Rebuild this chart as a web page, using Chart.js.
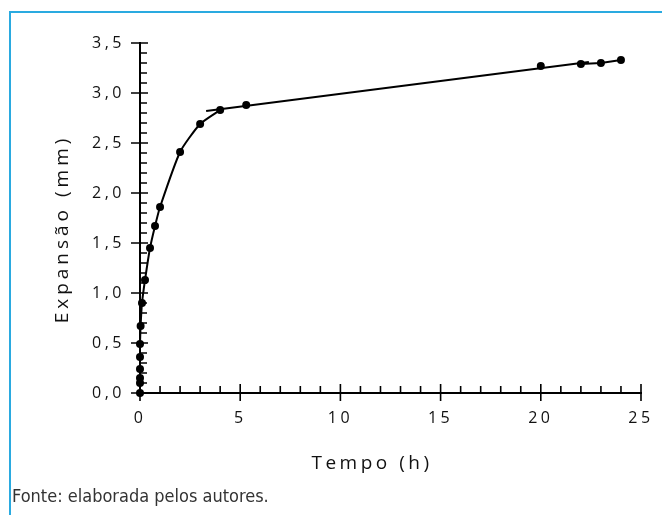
<!DOCTYPE html>
<html>
<head>
<meta charset="utf-8">
<script src="https://cdn.jsdelivr.net/npm/chart.js@4"></script>
<style>
    html, body { margin: 0; padding: 0; background: #fff; }
    #wrap { position: relative; width: 662px; height: 515px; overflow: hidden; }
    #frame { position: absolute; left: 9px; top: 11px; right: 0; bottom: 0; border-top: 2px solid #2aaae0; border-left: 2px solid #2aaae0; }
    #chart { position: absolute; left: 0; top: 0; }
    #source { position: absolute; left: 12px; top: 485px; font-family: 'Liberation Sans Narrow', 'DejaVu Sans Condensed', sans-serif; font-size: 18px; color: #333; }
</style>
</head>
<body>
<div id="wrap">
    <div id="frame"></div>
    <canvas id="chart" width="662" height="515"></canvas>
    <div id="source">Fonte: elaborada pelos autores.</div>
</div>
<script>
// early expansion (first hours)
const earlyTime = [0, 0, 0, 0, 0, 0, 0.03, 0.1, 0.25, 0.5, 0.75, 1, 2, 3, 4];
const earlyExp = [0, 0.10, 0.15, 0.24, 0.36, 0.49, 0.67, 0.90, 1.13, 1.45, 1.67, 1.86, 2.41, 2.69, 2.83];

// later readings
const lateTime = [5.3, 20, 22, 23, 24];
const lateExp = [2.88, 3.27, 3.29, 3.30, 3.33];

// fitted straight line for the later stage
const fitTime = [3.3, 22.4];
const fitExp = [2.82, 3.31];

const xTicks = [0, 5, 10, 15, 20, 25];
const yTicks = [0, 0.5, 1, 1.5, 2, 2.5, 3, 3.5];

const xTitle = 'Tempo (h)';
const yTitle = 'Expansão (mm)';

const toPoints = (xs, ys) => xs.map((x, i) => ({ x: x, y: ys[i] }));
const fmt = (v) => v.toFixed(1).replace('.', ',');

const fontFamily = "'Open Sans', 'Noto Sans', sans-serif";

const spacingPlugin = {
    id: 'spacing',
    beforeDraw: (chart) => {
        chart.ctx.letterSpacing = '3.5px';
    },
};

const minorTicksPlugin = {
    id: 'minorTicks',
    beforeDatasetsDraw: (chart) => {
        const ctx = chart.ctx;
        const xs = chart.scales.x;
        const ys = chart.scales.y;
        const x0 = xs.getPixelForValue(0);
        const y0 = ys.getPixelForValue(0);
        ctx.save();
        ctx.strokeStyle = '#000';
        ctx.lineWidth = 1.6;
        ctx.beginPath();
        for (let i = 0; i <= 35; i++) {
            const py = ys.getPixelForValue(i / 10);
            if (i % 5 === 0) {
                ctx.moveTo(x0 - 9, py);
                ctx.lineTo(x0 + 8, py);
            } else {
                ctx.moveTo(x0, py);
                ctx.lineTo(x0 + 7, py);
            }
        }
        for (let i = 0; i <= 25; i++) {
            const px = xs.getPixelForValue(i);
            if (i % 5 === 0) {
                ctx.moveTo(px, y0 - 9);
                ctx.lineTo(px, y0 + 8);
            } else {
                ctx.moveTo(px, y0 - 7);
                ctx.lineTo(px, y0);
            }
        }
        ctx.stroke();
        ctx.restore();
    },
    afterDraw: (chart) => {
        const ctx = chart.ctx;
        ctx.save();
        ctx.fillStyle = '#111';
        ctx.font = '19px ' + fontFamily;
        ctx.letterSpacing = '3.5px';
        ctx.textAlign = 'center';
        ctx.textBaseline = 'middle';
        ctx.fillText(xTitle, 372, 464);
        ctx.translate(63, 229);
        ctx.rotate(-Math.PI / 2);
        ctx.letterSpacing = '4px';
        ctx.fillText(yTitle, 0, 0);
        ctx.restore();
    },
};

const ctx = document.getElementById('chart').getContext('2d');

new Chart(ctx, {
    type: 'scatter',
    data: {
        datasets: [{
            data: toPoints(earlyTime, earlyExp),
            showLine: true,
            tension: 0.2,
            clip: false,
            borderColor: '#000',
            borderWidth: 2,
            pointRadius: 4,
            pointBackgroundColor: '#000',
            pointBorderWidth: 0,
        }, {
            data: toPoints(fitTime, fitExp),
            showLine: true,
            clip: false,
            borderColor: '#000',
            borderWidth: 2,
            pointRadius: 0,
        }, {
            data: toPoints(lateTime, lateExp),
            showLine: false,
            clip: false,
            pointRadius: 4,
            pointBackgroundColor: '#000',
            pointBorderWidth: 0,
        }, {
            data: toPoints(lateTime.slice(2), lateExp.slice(2)),
            showLine: true,
            clip: false,
            borderColor: '#000',
            borderWidth: 2,
            pointRadius: 0,
        }]
    },
    options: {
        responsive: false,
        animation: false,
        layout: {
            padding: { left: 0, right: 21, top: 43, bottom: 0 },
        },
        plugins: {
            legend: { display: false },
            tooltip: { enabled: false },
        },
        scales: {
            x: {
                type: 'linear',
                min: 0,
                max: 25,
                afterFit: (scale) => {
                    scale.height = 122;
                    scale.paddingLeft = 0;
                    scale.paddingRight = 0;
                },
                afterBuildTicks: (scale) => { scale.ticks = xTicks.map(v => ({ value: v })); },
                grid: { display: false, drawTicks: false },
                border: { display: true, color: '#000', width: 2 },
                ticks: {
                    padding: 16,
                    color: '#111',
                    font: { family: fontFamily, size: 16 },
                    callback: (v) => String(v),
                },
            },
            y: {
                type: 'linear',
                min: 0,
                max: 3.5,
                afterFit: (scale) => {
                    scale.width = 140;
                    scale.paddingTop = 0;
                    scale.paddingBottom = 0;
                },
                afterBuildTicks: (scale) => { scale.ticks = yTicks.map(v => ({ value: v })); },
                grid: { display: false, drawTicks: false },
                border: { display: true, color: '#000', width: 2 },
                ticks: {
                    padding: 15,
                    color: '#111',
                    font: { family: fontFamily, size: 16 },
                    callback: (v) => fmt(v),
                },
            },
        },
    },
    plugins: [spacingPlugin, minorTicksPlugin],
});
</script>
</body>
</html>
